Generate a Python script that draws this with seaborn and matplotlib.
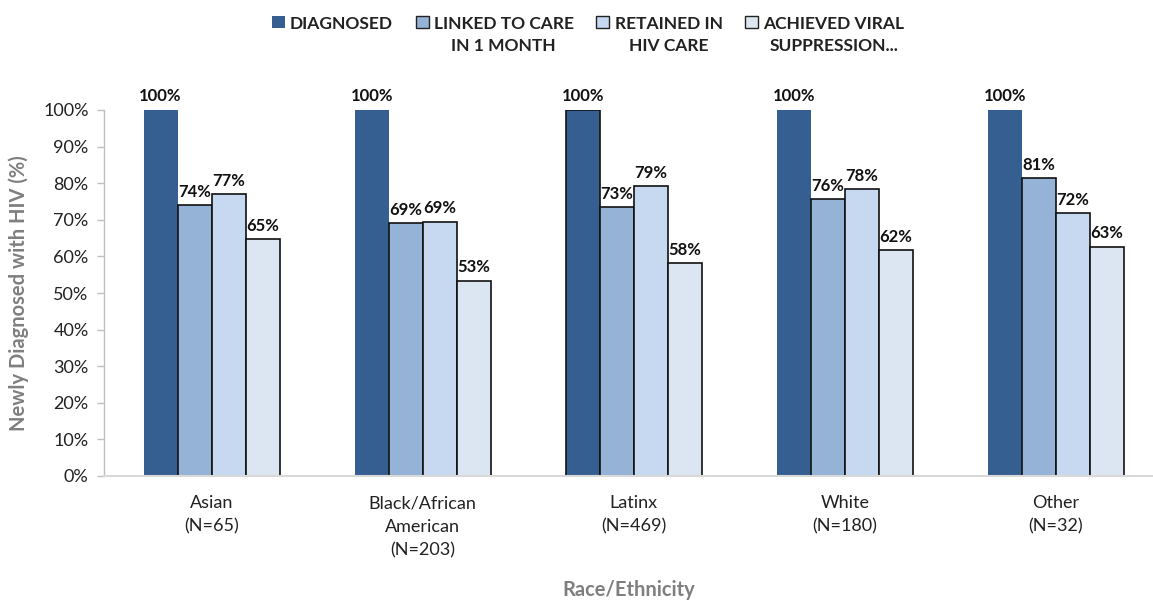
import matplotlib
matplotlib.use("Agg")
import matplotlib.pyplot as plt
import seaborn as sns
import pandas as pd
from matplotlib.patches import Patch

categories = ["Asian\n(N=65)", "Black/African\nAmerican\n(N=203)", "Latinx\n(N=469)", "White\n(N=180)", "Other\n(N=32)"]
series = ["DIAGNOSED", "LINKED TO CARE\nIN 1 MONTH", "RETAINED IN\nHIV CARE", "ACHIEVED VIRAL\nSUPPRESSION..."]
diagnosed = [100, 100, 100, 100, 100]
linked = [74.0, 69.1, 73.4, 75.6, 81.3]
retained = [77.0, 69.4, 79.2, 78.4, 71.8]
suppressed = [64.7, 53.3, 58.1, 61.7, 62.6]
colors = ["#355F91", "#95B3D7", "#C6D9F1", "#DCE6F2"]

rows = []
for s, vals in zip(series, [diagnosed, linked, retained, suppressed]):
    for c, v in zip(categories, vals):
        rows.append({"cat": c, "series": s, "value": v})
df = pd.DataFrame(rows)

sns.set_theme(style="white")
plt.rcParams["font.family"] = ["Lato", "DejaVu Sans"]

fig = plt.figure(figsize=(11.53, 6.0), dpi=100)
ax = fig.add_axes([104 / 1153, 1 - 476 / 600, 1 - 104 / 1153, (476 - 110) / 600])

sns.barplot(data=df, x="cat", y="value", hue="series", order=categories,
            hue_order=series, palette=colors, width=0.645, saturation=1,
            ax=ax, legend=False, errorbar=None)

for i, cont in enumerate(ax.containers):
    for j, bar in enumerate(cont):
        if i == 0 and j != 2:
            bar.set_edgecolor("none")
        else:
            bar.set_edgecolor("#111111")
            bar.set_linewidth(1.2)
    ax.bar_label(cont, labels=[f"{round(v)}%" for v in cont.datavalues],
                 padding=4, fontsize=12, fontweight="bold", color="#111111")

ax.set_ylim(0, 100)
ax.set_xlim(-0.51, 4.46)
ax.set_yticks(range(0, 101, 10))
ax.set_yticklabels([f"{t}%" for t in range(0, 101, 10)], fontsize=13, color="#222222")
ax.tick_params(axis="x", labelsize=13, labelcolor="#222222", length=0, pad=14)
for t in ax.get_xticklabels():
    t.set_linespacing(1.55)
ax.tick_params(axis="y", length=5, width=1, color="#bfbfbf", left=True, pad=6)
for side in ["top", "right"]:
    ax.spines[side].set_visible(False)
ax.spines["left"].set_color("#bfbfbf")
ax.spines["bottom"].set_color("#d9d9d9")
ax.spines["left"].set_linewidth(1)
ax.spines["bottom"].set_linewidth(1.5)

ax.set_ylabel("Newly Diagnosed with HIV (%)", fontsize=14.5, fontweight="bold", color="#7f7f7f", labelpad=10)
ax.set_xlabel("Race/Ethnicity", fontsize=14.5, fontweight="bold", color="#7f7f7f", labelpad=16)

handles = [Patch(facecolor=colors[0], edgecolor="none")] + \
          [Patch(facecolor=c, edgecolor="#222222", linewidth=1) for c in colors[1:]]
leg = fig.legend(handles, series, loc="upper center", bbox_to_anchor=(0.51, 1.0), ncol=4,
                 frameon=False, handlelength=0.75, handleheight=0.75, handletextpad=0.3,
                 columnspacing=1.3, prop={"weight": "bold", "size": 12.5})
for t in leg.get_texts():
    t.set_color("#222222")
    t.set_multialignment("center")
    t.set_linespacing(1.5)
hb = leg._legend_handle_box
hb.align = "top"
for col in hb.get_children():
    col.align = "left"
    for row in col.get_children():
        row.align = "top"

fig.savefig("out.png", dpi=100)
